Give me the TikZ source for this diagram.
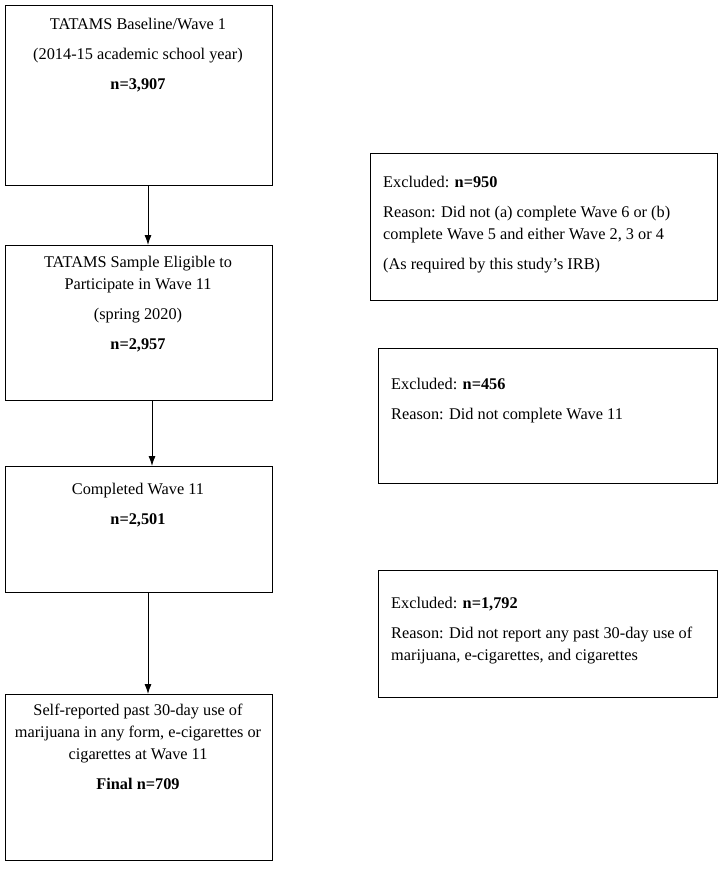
\documentclass[tikz,border=0pt]{standalone}
\usepackage{fontspec}
\setmainfont{Liberation Serif}
\usepackage{tikz}
\usetikzlibrary{positioning,arrows.meta}
\tikzset{
  box/.style={draw, line width=0.9pt, anchor=north west, inner sep=0pt},
  txt/.style={anchor=north, inner sep=0pt, font=\fontsize{16.3}{22}\selectfont},
  flow/.style={-{Latex[length=10pt,width=7pt]}, line width=0.9pt},
}
\begin{document}
\begin{tikzpicture}[x=1pt,y=-1pt]
\useasboundingbox (0,0) rectangle (728,871);
% left column
\node[box, minimum width=267pt, minimum height=180pt] (base) at (5,5) {};
\node[txt, align=center] (basetxt) at (138,18) {TATAMS Baseline/Wave 1\\[8pt](2014-15 academic school year)\\[8pt]\textbf{n=3,907}};
\node[box, minimum width=267pt, minimum height=155pt] (elig) at (5,245) {};
\node[txt, align=center] (eligtxt) at (138,256) {TATAMS Sample Eligible to\\Participate in Wave 11\\[8pt](spring 2020)\\[8pt]\textbf{n=2,957}};
\node[box, minimum width=267pt, minimum height=126pt] (comp) at (5,466) {};
\node[txt, align=center] (comptxt) at (138,483) {Completed Wave 11\\[8pt]\textbf{n=2,501}};
\node[box, minimum width=267pt, minimum height=166pt] (final) at (5,694) {};
\node[txt, align=center] (finaltxt) at (138,704) {Self-reported past 30-day use of\\marijuana in any form, e-cigarettes or\\cigarettes at Wave 11\\[8pt]\textbf{Final n=709}};
% right column
\node[box, minimum width=347pt, minimum height=147pt] (exc1) at (370,153) {};
\node[txt, align=left, anchor=north west] (exc1txt) at (383,176) {Excluded: \textbf{n=950}\\[8pt]Reason: Did not (a) complete Wave 6 or (b)\\complete Wave 5 and either Wave 2, 3 or 4\\[8pt](As required by this study's IRB)};
\node[box, minimum width=339pt, minimum height=135pt] (exc2) at (378,348) {};
\node[txt, align=left, anchor=north west] (exc2txt) at (391,378) {Excluded: \textbf{n=456}\\[8pt]Reason: Did not complete Wave 11};
\node[box, minimum width=339pt, minimum height=127pt] (exc3) at (378,570) {};
\node[txt, align=left, anchor=north west] (exc3txt) at (391,597) {Excluded: \textbf{n=1,792}\\[8pt]Reason: Did not report any past 30-day use of\\marijuana, e-cigarettes, and cigarettes};
% arrows
\coordinate (a1) at (148,185); \coordinate (b1) at (148,245);
\coordinate (a2) at (152,400); \coordinate (b2) at (152,466);
\coordinate (a3) at (148,592); \coordinate (b3) at (148,694);
\draw[flow] (a1) -- (b1);
\draw[flow] (a2) -- (b2);
\draw[flow] (a3) -- (b3);
\end{tikzpicture}
\end{document}
